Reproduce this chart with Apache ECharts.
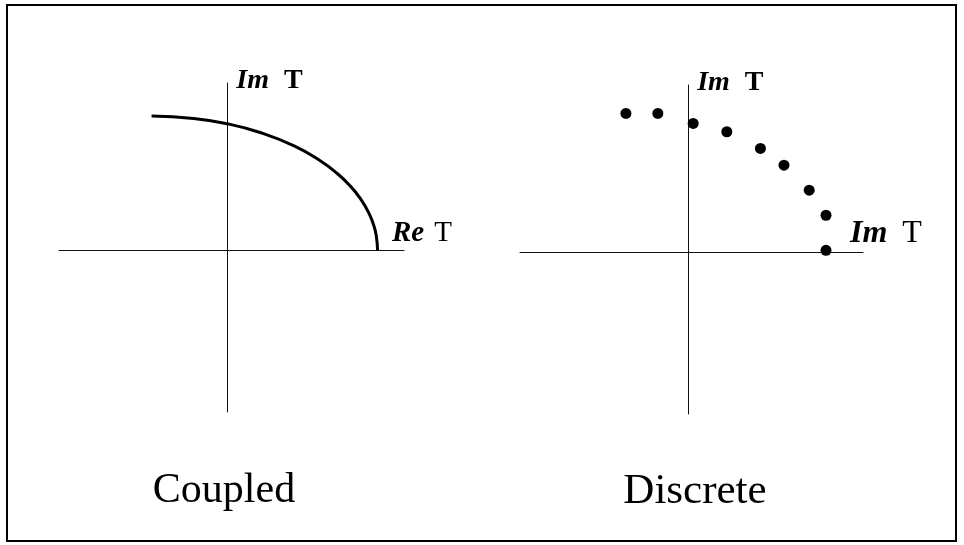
<!DOCTYPE html>
<html>
<head>
<meta charset="utf-8">
<script src="https://cdn.jsdelivr.net/npm/echarts@6/dist/echarts.min.js"></script>
<style>html,body{margin:0;padding:0;background:#fff}#c{width:964px;height:545px}</style>
</head>
<body>
<div id="c"></div>
<script>
// Coupled panel: continuous curve (Re T, Im T)
const coupledX = [-0.45, -0.20, 0.00, 0.20, 0.40, 0.55, 0.65, 0.73, 0.79, 0.84, 0.87, 0.885, 0.893];
const coupledY = [0.802, 0.788, 0.756, 0.702, 0.622, 0.536, 0.461, 0.384, 0.309, 0.224, 0.148, 0.087, 0.00];
// Discrete panel: points
const discreteX = [-0.37, -0.18, 0.03, 0.23, 0.43, 0.57, 0.72, 0.82, 0.82];
const discreteY = [0.83, 0.83, 0.77, 0.72, 0.62, 0.52, 0.37, 0.22, 0.01];
const panelTitles = ['Coupled', 'Discrete'];
const leftAxisNames = { x: '{i|Re}{g|}T', y: '{i|Im}{g|}{b|T}' };
const rightAxisNames = { x: '{i|Im}{g|}T', y: '{i|Im}{g|}{b|T}' };

const FF = '"Liberation Serif", "Times New Roman", serif';
const axisLine = { show: true, onZero: true, lineStyle: { color: '#111', width: 1 } };
function richStyle(size, gap) {
  return {
    fontFamily: FF, fontSize: size, color: '#000',
    rich: {
      i: { fontFamily: FF, fontSize: size, fontStyle: 'italic', fontWeight: 'bold', color: '#000' },
      b: { fontFamily: FF, fontSize: size, fontWeight: 'bold', color: '#000' },
      g: { width: gap }
    }
  };
}
function xAx(idx, min, max, name, size, gap, nameGap, pad) {
  return {
    type: 'value', gridIndex: idx, min: min, max: max,
    axisLine: axisLine, axisTick: { show: false }, axisLabel: { show: false }, splitLine: { show: false },
    name: name, nameLocation: 'end', nameGap: nameGap,
    nameTextStyle: Object.assign(richStyle(size, gap), { align: 'left', verticalAlign: 'bottom', padding: pad })
  };
}
function yAx(idx, min, max, name, size, gap) {
  return {
    type: 'value', gridIndex: idx, min: min, max: max,
    axisLine: axisLine, axisTick: { show: false }, axisLabel: { show: false }, splitLine: { show: false },
    name: name, nameLocation: 'end', nameGap: 2,
    nameTextStyle: Object.assign(richStyle(size, gap), { align: 'left', verticalAlign: 'middle', padding: [0, 0, 0, 9] })
  };
}

const chart = echarts.init(document.getElementById('c'), null, { renderer: 'canvas' });
chart.setOption({
  backgroundColor: '#fff',
  animation: false,
  grid: [
    { left: 59, top: 83, width: 345, height: 329 },
    { left: 520, top: 85, width: 343, height: 329 }
  ],
  xAxis: [
    xAx(0, -1, 1.05, leftAxisNames.x, 29, 10, -12, [0, 0, 2, 0]),
    xAx(1, -1, 1.04, rightAxisNames.x, 32, 15, -13, [0, 0, 2, 0])
  ],
  yAxis: [
    yAx(0, -0.97, 1, leftAxisNames.y, 28, 15),
    yAx(1, -0.97, 1, rightAxisNames.y, 28, 15)
  ],
  series: [
    {
      type: 'line', xAxisIndex: 0, yAxisIndex: 0, smooth: 0.5, showSymbol: false,
      lineStyle: { color: '#000', width: 3 },
      data: coupledX.map((x, i) => [x, coupledY[i]])
    },
    {
      type: 'scatter', xAxisIndex: 1, yAxisIndex: 1, symbol: 'circle', symbolSize: 11,
      itemStyle: { color: '#000', opacity: 1 },
      data: discreteX.map((x, i) => [x, discreteY[i]])
    }
  ],
  graphic: [
    { type: 'rect', shape: { x: 7, y: 5, width: 949, height: 536 }, style: { fill: 'none', stroke: '#000', lineWidth: 2 } },
    { type: 'text', x: 224, y: 491, style: { text: panelTitles[0], font: '42px ' + FF, fill: '#000', align: 'center', verticalAlign: 'middle' } },
    { type: 'text', x: 695, y: 492, style: { text: panelTitles[1], font: '43px ' + FF, fill: '#000', align: 'center', verticalAlign: 'middle' } }
  ]
});
</script>
</body>
</html>
